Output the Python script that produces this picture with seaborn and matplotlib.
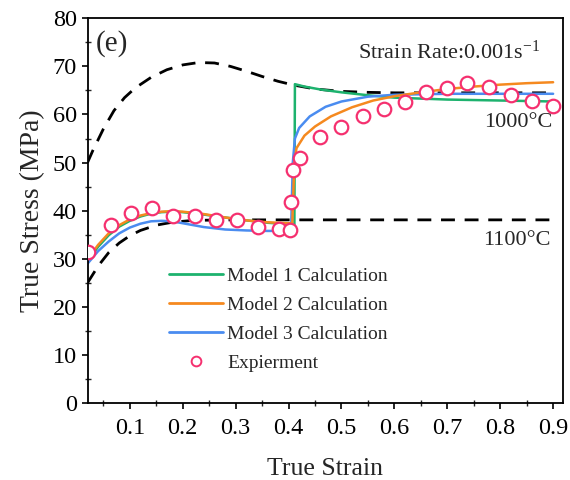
import numpy as np
import pandas as pd
import matplotlib
matplotlib.use("Agg")
import matplotlib.pyplot as plt
from matplotlib.lines import Line2D
from matplotlib.ticker import MultipleLocator
import seaborn as sns

# ---- data -------------------------------------------------------------
# experimental points
exp_strain = [0.021, 0.064, 0.103, 0.142, 0.181, 0.223, 0.262, 0.302, 0.342, 0.382,
              0.403, 0.405, 0.408, 0.421, 0.459, 0.500, 0.540, 0.581, 0.620, 0.660,
              0.700, 0.738, 0.779, 0.820, 0.860, 0.899]
exp_stress = [31.4, 37.0, 39.6, 40.6, 38.9, 39.0, 38.0, 38.1, 36.6, 36.1,
              35.9, 41.8, 48.4, 51.0, 55.4, 57.5, 59.7, 61.2, 62.5, 64.6,
              65.4, 66.6, 65.8, 64.1, 62.8, 61.8]

# model 1 calculation
m1_strain = [0.02, 0.04, 0.06, 0.08, 0.10, 0.12, 0.14, 0.16, 0.18, 0.20, 0.24, 0.28,
             0.32, 0.36, 0.40, 0.411, 0.412, 0.43, 0.46, 0.50, 0.55, 0.60, 0.70,
             0.80, 0.90]
m1_stress = [29.5, 32.5, 34.9, 36.7, 37.9, 38.8, 39.4, 39.7, 39.8, 39.7, 39.2, 38.6,
             38.0, 37.5, 37.2, 37.1, 66.3, 65.8, 65.2, 64.6, 64.0, 63.5, 63.1,
             62.9, 62.7]

# model 2 calculation
m2_strain = [0.02, 0.04, 0.06, 0.08, 0.10, 0.12, 0.14, 0.16, 0.18, 0.20, 0.24, 0.28,
             0.32, 0.36, 0.40, 0.407, 0.411, 0.415, 0.43, 0.45, 0.48, 0.52, 0.56,
             0.60, 0.65, 0.70, 0.75, 0.80, 0.85, 0.90]
m2_stress = [29.9, 32.9, 35.3, 37.0, 38.2, 39.0, 39.5, 39.8, 39.9, 39.8, 39.3, 38.6,
             38.0, 37.6, 37.4, 37.4, 50.0, 53.0, 55.6, 57.5, 59.6, 61.5, 62.9,
             63.8, 64.6, 65.3, 65.8, 66.2, 66.5, 66.7]

# model 3 calculation
m3_strain = [0.02, 0.04, 0.06, 0.08, 0.10, 0.12, 0.14, 0.16, 0.18, 0.20, 0.24, 0.28,
             0.32, 0.36, 0.40, 0.405, 0.408, 0.412, 0.42, 0.44, 0.47, 0.50, 0.55,
             0.60, 0.70, 0.80, 0.90]
m3_stress = [29.0, 31.6, 33.6, 35.3, 36.5, 37.3, 37.8, 37.9, 37.8, 37.4, 36.6, 36.1,
             35.9, 35.8, 35.8, 37.0, 50.0, 55.0, 57.2, 59.6, 61.6, 62.7, 63.7,
             64.1, 64.3, 64.3, 64.3]

# constant-temperature reference curves
t1000_strain = [0.02, 0.03, 0.05, 0.07, 0.09, 0.11, 0.14, 0.17, 0.20, 0.23, 0.26,
                0.29, 0.32, 0.35, 0.38, 0.41, 0.45, 0.50, 0.55, 0.60, 0.70, 0.80, 0.90]
t1000_stress = [50.0, 52.5, 57.0, 60.8, 63.5, 65.5, 67.7, 69.3, 70.3, 70.8, 70.7,
                70.0, 69.0, 67.9, 66.9, 66.1, 65.3, 64.8, 64.6, 64.5, 64.5, 64.5, 64.5]
t1100_strain = [0.02, 0.04, 0.06, 0.08, 0.10, 0.12, 0.15, 0.18, 0.22, 0.30, 0.50,
                0.70, 0.90]
t1100_stress = [25.0, 28.5, 31.3, 33.3, 34.8, 35.9, 37.0, 37.6, 38.0, 38.1, 38.1,
                38.1, 38.1]

model_labels = ["Model 1 Calculation", "Model 2 Calculation", "Model 3 Calculation"]
exp_label = "Expierment"
x_ticks = [0.1, 0.2, 0.3, 0.4, 0.5, 0.6, 0.7, 0.8, 0.9]
y_ticks = [0, 10, 20, 30, 40, 50, 60, 70, 80]

# ---- style ------------------------------------------------------------
sns.set_theme(style="white")
plt.rcParams["font.family"] = ["Liberation Serif", "DejaVu Serif"]
plt.rcParams["mathtext.fontset"] = "custom"
plt.rcParams["mathtext.rm"] = "Liberation Serif"
plt.rcParams["mathtext.it"] = "Liberation Serif:italic"

c_green = "#1db26e"
c_orange = "#f5891f"
c_blue = "#4a8cf0"
c_exp = "#f5306f"

fig = plt.figure(figsize=(5.7, 4.8), dpi=100)
ax = fig.add_axes([0.154, 0.160, 0.834, 0.802])

dash = (0, (5, 3.5))
ref = pd.concat([
    pd.DataFrame({"strain": t1000_strain, "stress": t1000_stress, "T": "1000"}),
    pd.DataFrame({"strain": t1100_strain, "stress": t1100_stress, "T": "1100"}),
])
for t, sub in ref.groupby("T"):
    sns.lineplot(data=sub, x="strain", y="stress", ax=ax, color="black",
                 linewidth=2.0, sort=False, estimator=None, linestyle=dash,
                 legend=False)

models = [(m1_strain, m1_stress, c_green),
          (m2_strain, m2_stress, c_orange),
          (m3_strain, m3_stress, c_blue)]
# green at the bottom, blue next, orange on top
for i in [0, 2, 1]:
    xs, ys, col = models[i]
    df = pd.DataFrame({"strain": xs, "stress": ys})
    sns.lineplot(data=df, x="strain", y="stress", ax=ax, color=col,
                 linewidth=1.8, sort=False, estimator=None, legend=False)

exp_df = pd.DataFrame({"strain": exp_strain, "stress": exp_stress})
sns.scatterplot(data=exp_df, x="strain", y="stress", ax=ax, s=95,
                facecolor="white", edgecolor=c_exp, linewidth=1.6,
                zorder=5, legend=False)

# ---- axes -------------------------------------------------------------
ax.set_xlim(0.0205, 0.919)
ax.set_ylim(0, 80)
ax.set_xticks(x_ticks)
ax.set_xticklabels([f"{v:.1f}" for v in x_ticks])
ax.set_yticks(y_ticks)
ax.xaxis.set_minor_locator(MultipleLocator(0.05))
ax.yaxis.set_minor_locator(MultipleLocator(5))
ax.tick_params(which="major", direction="out", length=4, width=1.2,
               labelsize=17.5, colors="black", bottom=True, left=True)
ax.tick_params(axis="x", which="major", pad=7)
ax.tick_params(axis="y", which="major", pad=4)
ax.tick_params(which="minor", direction="inout", length=4, width=1.0,
               bottom=True, left=True)
for sp in ax.spines.values():
    sp.set_color("black")
    sp.set_linewidth(1.3)
ax.set_xlabel("True Strain", fontsize=18.5, labelpad=13)
ax.set_ylabel("True Stress (MPa)", fontsize=20, labelpad=5)

ax.text(0.016, 0.935, "(e)", transform=ax.transAxes, fontsize=21,
        ha="left", va="center")
ax.text(0.952, 0.912, r"Strain Rate:0.001s$^{-1}$", transform=ax.transAxes,
        fontsize=16, ha="right", va="center")
ax.text(0.977, 0.73, "1000°C", transform=ax.transAxes, fontsize=16,
        ha="right", va="center")
ax.text(0.973, 0.423, "1100°C", transform=ax.transAxes, fontsize=16,
        ha="right", va="center")

handles = [Line2D([], [], color=c, linewidth=2.0) for c in (c_green, c_orange, c_blue)]
handles.append(Line2D([], [], linestyle="none", marker="o", markersize=7,
                      markerfacecolor="white", markeredgecolor=c_exp,
                      markeredgewidth=1.4))
ax.legend(handles, model_labels + [exp_label], loc="upper left",
          bbox_to_anchor=(0.17, 0.352), frameon=False, fontsize=14,
          handlelength=2.8, handletextpad=0.2, labelspacing=0.58,
          borderaxespad=0, borderpad=0)

fig.savefig("out.png", dpi=100)
